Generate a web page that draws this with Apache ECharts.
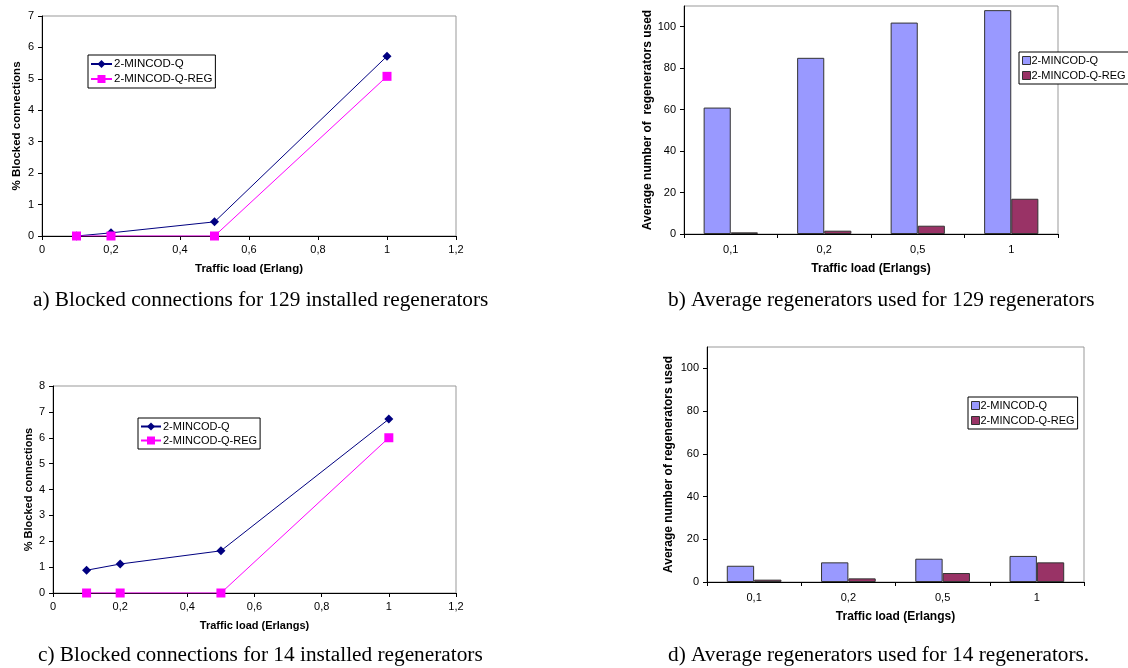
<!DOCTYPE html>
<html>
<head>
<meta charset="utf-8">
<script src="https://cdn.jsdelivr.net/npm/echarts@6/dist/echarts.min.js"></script>
<style>
html,body{margin:0;padding:0;background:#fff;}
#c{width:1128px;height:668px;}
</style>
</head>
<body>
<div id="c"></div>
<script>
// ---- Data ----
const loadsLine = [0.1, 0.2, 0.5, 1];
const aQ   = [0, 0.1, 0.45, 5.72];
const aREG = [0, 0, 0, 5.08];
const cQ   = [0.88, 1.12, 1.63, 6.72];
const cREG = [0, 0, 0, 6.0];
const barCats = ['0,1', '0,2', '0,5', '1'];
const bQ   = [61, 85, 102, 108];
const bREG = [0.8, 1.6, 4, 17];
const dQ   = [7.6, 9.2, 10.9, 12.2];
const dREG = [1.1, 1.7, 4.2, 9.2];
const seriesNames = ['2-MINCOD-Q', '2-MINCOD-Q-REG'];
const captions = [
  'a) Blocked connections for 129 installed regenerators',
  'b) Average regenerators used for 129 regenerators',
  'c) Blocked connections for 14 installed regenerators',
  'd) Average regenerators used for 14 regenerators.'
];

const SANS = 'Liberation Sans, Arial, sans-serif';
const SERIF = 'Liberation Serif, Times New Roman, serif';
const LINE_COLORS = ['#000080', '#FF00FF'];
const BAR_COLORS = ['#9999FF', '#993366'];
const comma = v => String(+(+v).toFixed(2)).replace('.', ',');
const labelStyle = {color: '#000', fontFamily: SANS, fontSize: 11};
const nameStyle = fs => ({color: '#000', fontFamily: SANS, fontSize: fs, fontWeight: 'bold'});
const axisLineBlack = {show: true, lineStyle: {color: '#000', width: 1}};
const tickOut = {show: true, inside: false, length: 4, lineStyle: {color: '#000'}};

function pts(xs, ys) { return xs.map((x, i) => [x, ys[i]]); }

const grids = [
  {left: 42, top: 16, width: 414, height: 220},
  {left: 684, top: 6, width: 374, height: 228},
  {left: 53, top: 386, width: 403, height: 207},
  {left: 707, top: 347, width: 377, height: 235}
].map(g => Object.assign({show: true, borderColor: '#999', borderWidth: 1, backgroundColor: '#fff', containLabel: false}, g));

function lineX(gi, title, fs) {
  return {
    type: 'value', gridIndex: gi, min: 0, max: 1.2, interval: 0.2,
    axisLine: axisLineBlack, axisTick: tickOut, splitLine: {show: false},
    axisLabel: Object.assign({formatter: comma, margin: 8}, labelStyle),
    name: title, nameLocation: 'middle', nameGap: 27, nameTextStyle: nameStyle(fs)
  };
}
function lineY(gi, max, title, gap, fs) {
  return {
    type: 'value', gridIndex: gi, min: 0, max: max, interval: 1,
    axisLine: axisLineBlack, axisTick: tickOut, splitLine: {show: false},
    axisLabel: Object.assign({margin: 8}, labelStyle),
    name: title, nameLocation: 'middle', nameGap: gap, nameTextStyle: nameStyle(fs)
  };
}
function barX(gi, title) {
  return {
    type: 'category', gridIndex: gi, data: barCats,
    axisLine: axisLineBlack, axisTick: Object.assign({alignWithLabel: false}, tickOut),
    splitLine: {show: false},
    axisLabel: Object.assign({margin: 10}, labelStyle),
    name: title, nameLocation: 'middle', nameGap: 29, nameTextStyle: nameStyle(12)
  };
}
function barY(gi, title, gap) {
  return {
    type: 'value', gridIndex: gi, min: 0, max: 110, interval: 20,
    axisLine: axisLineBlack, axisTick: tickOut, splitLine: {show: false},
    axisLabel: Object.assign({margin: 8, showMaxLabel: false}, labelStyle),
    name: title, nameLocation: 'middle', nameGap: gap, nameTextStyle: nameStyle(12)
  };
}

function lineSeries(gi, nameIdx, data) {
  const isQ = nameIdx === 0;
  return {
    type: 'line', name: seriesNames[nameIdx], xAxisIndex: gi, yAxisIndex: gi,
    data: data, symbol: isQ ? 'diamond' : 'rect', symbolSize: 9,
    lineStyle: {color: LINE_COLORS[nameIdx], width: 1},
    itemStyle: {color: LINE_COLORS[nameIdx]},
    animation: false, z: isQ ? 3 : 4
  };
}
function barSeries(gi, nameIdx, data) {
  return {
    type: 'bar', name: seriesNames[nameIdx], xAxisIndex: gi, yAxisIndex: gi,
    data: data, barGap: '0%', barCategoryGap: '42%',
    itemStyle: {color: BAR_COLORS[nameIdx], borderColor: '#333', borderWidth: 1},
    animation: false
  };
}

function lineLegend(left, top, fs, iw) {
  return {
    left: left, top: top, orient: 'vertical',
    borderColor: '#000', borderWidth: 1, backgroundColor: '#fff',
    padding: [3, 3, 3, 2], itemGap: 3,
    itemWidth: iw, itemHeight: 10,
    textStyle: {fontFamily: SANS, fontSize: fs, color: '#000', padding: [0, 0, 0, -3]},
    data: seriesNames, selectedMode: false
  };
}
function barLegend(left, top) {
  return {
    left: left, top: top, orient: 'vertical',
    borderColor: '#000', borderWidth: 1, backgroundColor: '#fff',
    padding: [3, 3, 3, 3], itemGap: 4,
    itemWidth: 8, itemHeight: 8,
    textStyle: {fontFamily: SANS, fontSize: 11, color: '#000', padding: [0, 0, 0, -4]},
    data: seriesNames.map((n, i) => ({
      name: n, icon: 'rect',
      itemStyle: {color: BAR_COLORS[i], borderColor: '#333', borderWidth: 1}
    })),
    selectedMode: false
  };
}

const option = {
  backgroundColor: '#fff',
  animation: false,
  grid: grids,
  xAxis: [lineX(0, 'Traffic load (Erlang)', 11.5), barX(1, 'Traffic load (Erlangs)'), lineX(2, 'Traffic load (Erlangs)', 11), barX(3, 'Traffic load (Erlangs)')],
  yAxis: [lineY(0, 7, '% Blocked connections', 19, 11.5), barY(1, 'Average number of  regenerators used', 30), lineY(2, 8, '% Blocked connections', 19, 11), barY(3, 'Average number of regenerators used', 32)],
  legend: [lineLegend(88, 55, 11.5, 21), barLegend(1019, 52), lineLegend(138, 418, 11, 20), barLegend(968, 397)],
  title: [
    {text: captions[0], left: 33, top: 290},
    {text: captions[1], left: 668, top: 290},
    {text: captions[2], left: 38, top: 645},
    {text: captions[3], left: 668, top: 645}
  ].map(t => Object.assign({padding: 0, textStyle: {fontFamily: SERIF, fontSize: 21.3, fontWeight: 'normal', color: '#000'}}, t)),
  series: [
    lineSeries(0, 0, pts(loadsLine, aQ)), lineSeries(0, 1, pts(loadsLine, aREG)),
    barSeries(1, 0, bQ), barSeries(1, 1, bREG),
    lineSeries(2, 0, pts(loadsLine, cQ)), lineSeries(2, 1, pts(loadsLine, cREG)),
    barSeries(3, 0, dQ), barSeries(3, 1, dREG)
  ]
};

const chart = echarts.init(document.getElementById('c'), null, {renderer: 'canvas'});
chart.setOption(option);
</script>
</body>
</html>
